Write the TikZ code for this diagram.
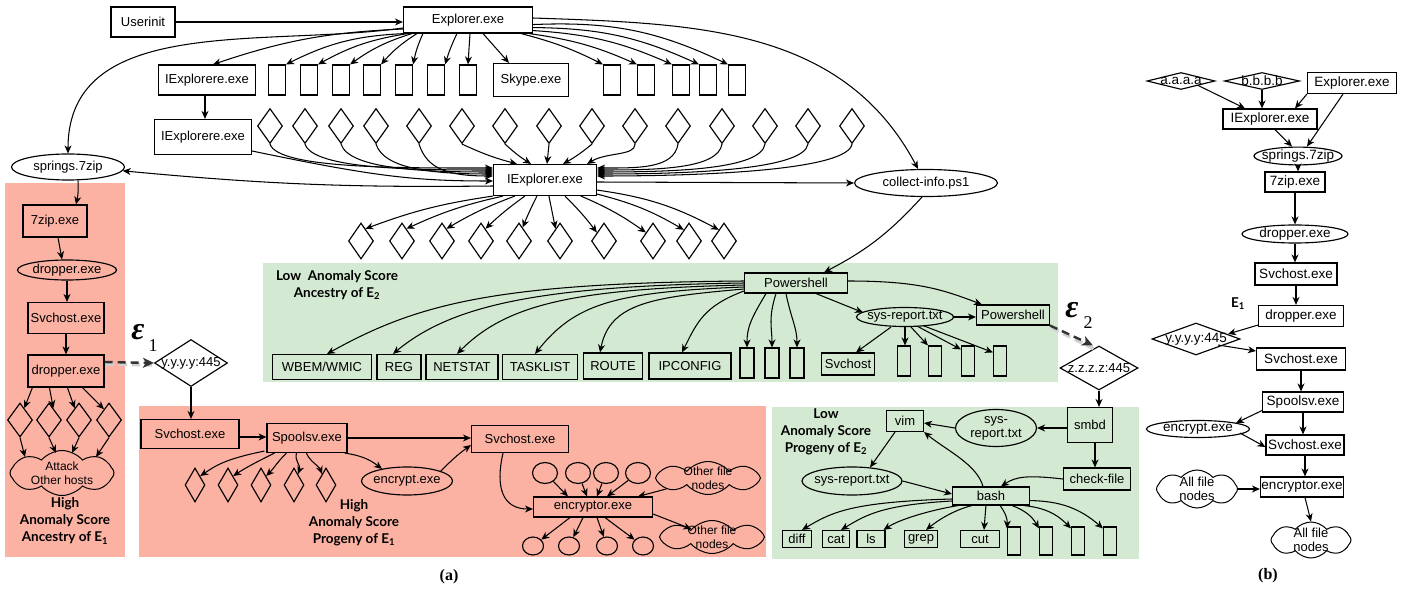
\documentclass[tikz,border=0pt]{standalone}
\usepackage{amsmath}
\usepackage{fontspec}
\setmainfont{Liberation Sans}
\newfontfamily\lbl{Lato}
\newfontfamily\capf{Liberation Serif}
\usetikzlibrary{arrows.meta,shapes.geometric,shapes.symbols,calc}
\definecolor{redp}{RGB}{251,178,163}
\definecolor{greenp}{RGB}{211,233,209}
\tikzset{
  every node/.style={font=\fontsize{13}{15}\selectfont},
  box/.style={draw, line width=1.15pt, inner sep=1pt, rectangle},
  ell/.style={draw, line width=1.15pt, ellipse, inner sep=0pt},
  dia/.style={draw, line width=1.15pt, diamond, inner sep=0pt},
  cld/.style={draw, line width=1pt, cloud, cloud puffs=8, cloud puff arc=100, cloud ignores aspect, inner sep=0pt},
  cldt/.style={align=center, font=\fontsize{12}{13.5}\selectfont},
  arr/.style={line width=1.05pt, -{Stealth[length=8pt,width=7pt,inset=2.5pt]}},
  dsh/.style={line width=2.4pt, draw=black!80, dash pattern=on 8pt off 5pt, -{Stealth[length=11pt,width=10pt,inset=3pt]}},
  shd/.style={line width=3.5pt, draw=black!18, dash pattern=on 8pt off 5pt},
  lab/.style={font=\lbl\bfseries\fontsize{13.5}{17}\selectfont, align=center},
  eps/.style={font=\capf\bfseries\itshape\fontsize{32}{32}\selectfont, inner sep=0pt},
  epsub/.style={font=\capf\fontsize{18}{18}\selectfont, inner sep=0pt},
  capt/.style={font=\capf\bfseries\fontsize{16}{16}\selectfont},
  sz/.style 2 args={minimum width=#1pt, minimum height=#2pt},
}
\begin{document}
\begin{tikzpicture}[x=1pt,y=1pt]
\useasboundingbox (0,0) rectangle (1411,-593);
% panels
\fill[redp] (5,-183) rectangle (125,-557);
\fill[redp] (139,-406) rectangle (766,-557);
\fill[greenp] (263,-263) rectangle (1058,-382);
\fill[greenp] (772,-407) rectangle (1139,-559);

% ---------- top part ----------
\node[box, sz={64}{30}] (ui) at (143,-22) {Userinit};
\node[box, sz={129}{26}] (ex) at (468,-20) {Explorer.exe};
\node[box, sz={97}{30}] (ie1) at (207,-80) {IExplorere.exe};
\foreach \n/\x in {1/277,2/309,3/341,4/372,5/404,6/436,7/468}
  \node[box, sz={17}{30}] (r\n) at (\x,-80) {};
\node[box, sz={75}{33}] (sk) at (531,-80) {Skype.exe};
\foreach \n/\x in {1/612,2/646,3/681,4/708,5/737}
  \node[box, sz={17}{30}] (q\n) at (\x,-80) {};
\node[box, sz={97}{35}] (ie2) at (203,-137) {IExplorere.exe};
\foreach \n/\x in {1/270,2/305,3/341,4/376,5/419,6/462,7/505,8/549,9/592,10/635,11/678,12/722,13/765,14/808,15/852}
  \node[dia, sz={25}{35}] (da\n) at (\x,-126) {};
\node[box, sz={103}{31}] (IE) at (545,-180) {IExplorer.exe};
\node[ell, sz={113}{26}] (spr) at (68,-167) {\makebox[0pt]{springs.7zip}};
\node[ell, sz={143}{27}] (col) at (926,-183) {\makebox[0pt]{collect-info.ps1}};
\foreach \n/\x in {1/361,2/402,3/442,4/481,5/519,6/560,7/604,8/653,9/689,10/724}
  \node[dia, sz={25}{36}] (db\n) at (\x,-241) {};

\draw[arr] (ui.east) -- (ui.east -| ex.west);
\draw[arr] ([yshift=-9]ex.west) to[bend right=8] ([xshift=6]ie1.north);
\foreach \n/\dx/\bd in {1/2/12,2/5/10,3/9/9,4/14/8,5/20/6,6/54/4}
  \draw[arr] ([xshift=\dx]ex.south west) to[bend right=\bd] (r\n.north east);
\draw[arr] ([xshift=2]ex.south) -- (r7.north);
\draw[arr] ([xshift=15]ex.south) -- ([xshift=-22]sk.north);
\foreach \n/\dx/\dy/\bd in {1/-12/0/6,2/-4/0/8,3/0/3/10,4/0/6/12,5/0/9/14}
  \draw[arr] ([xshift=\dx,yshift=\dy]ex.south east) to[bend left=\bd] (q\n.north west);
\draw[arr] ([yshift=-8]ex.west) to[out=188,in=90] (spr.north);
\draw[arr] ([yshift=2]ex.east) to[out=-2,in=118] ([xshift=-8]col.north);
\draw[arr] ([xshift=-2]ie1.south) -- ([xshift=2]ie2.north);
\draw[arr] ([yshift=-14]ie2.east) .. controls +(120,-25) and +(-80,0) .. ([yshift=-1]IE.west);
\foreach \n/\dy/\cc in {1/12/90,2/10/80,3/8/70,4/6/60,5/4/45}
  \draw[arr] (da\n.south) .. controls +(8,-25) and +(-\cc,0) .. ([yshift=\dy]IE.west);
\draw[arr] (da6.south) to[bend right=5] ([xshift=-28]IE.north);
\draw[arr] (da7.south) to[bend right=5] ([xshift=-14]IE.north);
\draw[arr] (da8.south) -- ([xshift=2]IE.north);
\draw[arr] (da9.south) to[bend left=5] ([xshift=18]IE.north);
\draw[arr] (da10.south) .. controls +(0,-12) and +(20,12) .. ([xshift=42]IE.north);
\foreach \n/\dy/\cc in {11/12/40,12/10/60,13/8/80,14/6/100,15/4/120}
  \draw[arr] (da\n.south) .. controls +(-4,-25) and +(\cc,0) .. ([yshift=\dy]IE.east);
\draw[arr] ([yshift=-6]IE.west) to[bend left=3] (spr.-4);
\draw[arr] ([yshift=-2]IE.east) -- (col.west);
\foreach \n/\sx/\ang/\bd in {1/0/70/6,2/10/70/6,3/22/70/5,4/32/70/4,5/44/75/2,6/56/110/0,7/72/130/-4,8/88/130/-6}
  \draw[arr] ([xshift=\sx]IE.south west) to[bend right=\bd] (db\n.\ang);
\draw[arr] ([yshift=2]IE.south east) to[bend left=8] (db9.115);
\draw[arr] ([yshift=6]IE.south east) to[bend left=10] (db10.115);

% ---------- green panel 1 ----------
\node[lab] (lbl2) at (337,-285) {Low\ \ Anomaly Score\\Ancestry of E\textsubscript{2}};
\node[box, sz={103}{20}] (ps) at (796,-283) {Powershell};
\draw[arr] ([xshift=-4]col.south) to[bend left=10] ([xshift=28]ps.north);
\node[box, sz={99}{25}] (wbem) at (322,-367) {WBEM/WMIC};
\node[box, sz={44}{25}] (reg) at (399,-367) {REG};
\node[box, sz={72}{25}] (net) at (462,-367) {NETSTAT};
\node[box, sz={75}{25}] (task) at (540,-367) {TASKLIST};
\node[box, sz={59}{26}] (route) at (613,-366) {ROUTE};
\node[box, sz={82}{26}] (ipc) at (690,-366) {IPCONFIG};
\foreach \n/\x in {1/747,2/772,3/797}
  \node[box, sz={14}{30}] (p\n) at (\x,-363) {};
\node[box, sz={53}{22}] (svc) at (848,-364) {Svchost};
\foreach \n/\x in {1/904,2/935,3/968,4/1000}
  \node[box, sz={13}{30}] (s\n) at (\x,-361) {};
\node[ell, sz={97}{19}] (sr) at (905,-317) {\makebox[0pt]{sys-report.txt}};
\node[box, sz={73}{20}] (ps2) at (1013,-315) {Powershell};

\draw[arr] ([yshift=2]ps.west) .. controls +(-250,-2) and +(90,50) .. ([xshift=5]wbem.north);
\draw[arr] (ps.west) .. controls +(-200,-3) and +(60,50) .. ([xshift=-6]reg.north);
\draw[arr] ([yshift=-2]ps.west) .. controls +(-170,-4) and +(50,50) .. ([xshift=-5]net.north);
\draw[arr] ([yshift=-4]ps.west) .. controls +(-130,-5) and +(40,50) .. ([xshift=-5]task.north);
\draw[arr] ([yshift=-6]ps.west) .. controls +(-90,-8) and +(10,50) .. ([xshift=-13]route.north);
\draw[arr] ([yshift=-8]ps.west) .. controls +(-40,-15) and +(15,30) .. ([xshift=-8]ipc.north);
\draw[arr] ([xshift=-30]ps.south) .. controls +(-15,-25) and +(0,20) .. (p1.north);
\draw[arr] ([xshift=-20]ps.south) .. controls +(-8,-25) and +(0,20) .. (p2.north);
\draw[arr] ([xshift=-10]ps.south) .. controls +(5,-25) and +(0,20) .. (p3.north);
\draw[arr] ([xshift=20]ps.south) -- ([shift={(-42,4.5)}]sr.center);
\draw[arr] ([yshift=2]ps.east) .. controls +(70,0) and +(-40,15) .. ([xshift=6]ps2.north west);
\draw[arr] (sr.east) -- (sr.east -| ps2.west);
\draw[arr] ([xshift=-14]sr.south) -- ([xshift=8]svc.north);
\draw[arr] (sr.south) -- (sr.south |- s1.north);
\draw[arr] ([xshift=6]sr.south) -- (s2.north west);
\draw[arr] ([xshift=12,yshift=1]sr.south) -- ([yshift=-4]s3.north west);
\draw[arr] ([xshift=18,yshift=1.5]sr.south) -- ([yshift=-7]s4.north west);

% epsilon 2
\node[dia, sz={78}{44}] (zz) at (1099,-368) {\makebox[0pt]{z.z.z.z:445}};
\draw[shd] ([shift={(1.5,-2)}]ps2.south east) -- ([shift={(-4,-4)}]zz.north);
\draw[dsh] (ps2.south east) -- ([xshift=-6]zz.north);
\node[eps] (e2) at (1072,-310) {ε};
\node[epsub] (e2s) at (1088,-323) {2};

% ---------- green panel 2 ----------
\node[lab] (lbl4) at (826,-432) {Low\\Anomaly Score\\Progeny of E\textsubscript{2}};
\node[box, sz={37}{21}] (vim) at (905,-421) {vim};
\node[ell, sz={81}{37}] (sr2) at (996,-428) {};
\node[align=center, font=\fontsize{13}{14}\selectfont] (sr2t) at (sr2) {sys-\\report.txt};
\node[box, sz={45}{35}] (smbd) at (1090,-425) {smbd};
\node[box, sz={67}{22}] (cf) at (1097,-479) {check-file};
\node[ell, sz={100}{28}] (sr3) at (852,-481) {\makebox[0pt]{sys-report.txt}};
\node[box, sz={77}{18}] (bash) at (991,-496) {bash};
\node[box, sz={29}{17}] (diff) at (797,-539) {diff};
\node[box, sz={27}{17}] (cat) at (836,-539) {cat};
\node[box, sz={28}{17}] (ls) at (871,-539) {ls};
\node[box, sz={33}{17}] (grep) at (921,-539) {grep};
\node[box, sz={39}{17}] (cut) at (980,-539) {cut};
\foreach \n/\x in {1/1014,2/1046,3/1078,4/1110}
  \node[box, sz={13}{28}] (b\n) at (\x,-541) {};

\draw[arr] (zz.south) -- (zz.south |- smbd.north);
\draw[arr] (smbd.west |- sr2.east) -- (sr2.east);
\draw[arr] (sr2.west) -- ([yshift=-2]vim.east);
\draw[arr] ([xshift=5]smbd.south) -- ([xshift=-2]cf.north);
\draw[arr] (cf.west) .. controls +(-35,4) and +(15,10) .. ([xshift=10]bash.north);
\draw[arr] ([xshift=-8]bash.north) .. controls +(-6,22) and +(22,-18) .. (vim.south east);
\draw[arr] ([xshift=-10]vim.south) -- ([xshift=18,yshift=-1]sr3.north);
\draw[arr] (sr3.east) -- ([yshift=2]bash.west);
\draw[arr] ([yshift=-3]bash.west) .. controls +(-100,-3) and +(30,18) .. ([xshift=5]diff.north);
\draw[arr] ([yshift=-5]bash.west) .. controls +(-70,-4) and +(25,15) .. ([xshift=5]cat.north);
\draw[arr] ([xshift=6]bash.south west) .. controls +(-30,-5) and +(15,10) .. ([xshift=-2]ls.north east);
\draw[arr] ([xshift=20]bash.south west) .. controls +(-20,-5) and +(10,8) .. ([xshift=5]grep.north);
\draw[arr] ([xshift=34]bash.south west) -- ([xshift=4]cut.north);
\draw[arr] ([xshift=-30]bash.south east) to[bend left=20] ([yshift=-2]b1.north west);
\draw[arr] ([xshift=-18]bash.south east) to[bend left=20] ([yshift=-2]b2.north west);
\draw[arr] ([xshift=-6]bash.south east) to[bend left=20] ([yshift=-2]b3.north west);
\draw[arr] ([yshift=5]bash.south east) to[bend left=20] ([yshift=-2]b4.north west);

% ---------- left red panel ----------
\node[box, sz={64}{32}] (zip) at (55,-221) {7zip.exe};
\node[ell, sz={99}{20}] (dr1) at (67,-270) {\makebox[0pt]{dropper.exe}};
\node[box, sz={76}{31}] (svl) at (66,-318) {Svchost.exe};
\node[box, sz={76}{32}] (drl) at (66,-371) {dropper.exe};
\foreach \n/\x in {1/20,2/49,3/79,4/109}
  \node[dia, sz={25}{34}] (l\n) at (\x,-420) {};
\node[cld, sz={104}{45}] (att) at (62,-473) {};
\node[cldt] (attt) at (att) {Attack\\Other hosts};
\node[lab] (lbl1) at (65,-521) {High\\Anomaly Score\\Ancestry of E\textsubscript{1}};

\draw[arr] ([xshift=10]spr.south) to[bend left=8] ([xshift=21]zip.north);
\draw[arr] ([xshift=3]zip.south) -- ([xshift=-5]dr1.north);
\draw[arr] (dr1.south) -- (dr1.south |- svl.north);
\draw[arr] (svl.south) -- (drl.north);
\draw[arr] ([xshift=5]drl.south west) -- (l1.70);
\draw[arr] ([xshift=22]drl.south west) -- (l2.70);
\draw[arr] ([xshift=40]drl.south west) -- (l3.110);
\draw[arr] ([xshift=55]drl.south west) -- (l4.115);
\draw[arr] (l1.south) -- ([shift={(-37,16)}]att.center);
\draw[arr] (l2.south) -- ([shift={(-6,20)}]att.center);
\draw[arr] (l3.south) -- ([shift={(10,20)}]att.center);
\draw[arr] (l4.south) -- ([shift={(34,16)}]att.center);

% epsilon 1
\node[dia, sz={73}{47}] (yy) at (191,-363) {\makebox[0pt]{y.y.y.y:445}};
\draw[shd] ([shift={(1.5,-2)}]drl.east) ++(0,9) -- ([shift={(-2,-2)}]yy.west);
\draw[dsh] ([yshift=9]drl.east) -- (yy.west);
\node[eps] (e1) at (138,-332) {ε};
\node[epsub] (e1s) at (153,-346) {1};

% ---------- middle red panel ----------
\node[box, sz={98}{29}] (msv) at (190,-434) {Svchost.exe};
\node[box, sz={80}{29}] (spool) at (307,-438) {Spoolsv.exe};
\node[box, sz={97}{27}] (msv2) at (520,-439) {Svchost.exe};
\node[ell, sz={91}{28}] (enc) at (407,-481) {\makebox[0pt]{encrypt.exe}};
\foreach \n/\x in {1/195,2/228,3/261,4/294,5/326}
  \node[dia, sz={20}{34}] (m\n) at (\x,-485) {};
\foreach \n/\x in {1/545,2/578,3/606,4/638}
  \node[ell, sz={25}{21}] (c\n) at (\x,-473) {};
\node[cld, sz={105}{33}] (oc1) at (708,-478) {};
\node[cldt] (oc1t) at (oc1) {Other file\\nodes};
\node[box, sz={119}{20}] (enc2) at (593,-507) {encryptor.exe};
\foreach \n/\x in {1/533,2/569,3/607,4/643}
  \node[ell, sz={21}{18}] (d\n) at (\x,-546) {};
\node[cld, sz={105}{33}] (oc2) at (712,-537) {};
\node[cldt] (oc2t) at (oc2) {Other file\\nodes};
\node[lab] (lbl3) at (354,-523) {High\\Anomaly Score\\Progeny of E\textsubscript{1}};

\draw[arr] (yy.south) -- (yy.south |- msv.north);
\draw[arr] ([yshift=-3]msv.east) -- ([yshift=1]spool.west);
\draw[arr] (spool.east) -- (spool.east -| msv2.west);
\draw[arr] ([xshift=-3]spool.south east) to[bend left=15] ([shift={(-25,12)}]enc.center);
\draw[arr] ([shift={(33,9)}]enc.center) to[bend left=5] ([yshift=-6]msv2.west);
\draw[arr] ([xshift=-2,yshift=2]spool.south west) .. controls +(-40,-8) and +(15,10) .. (m1.60);
\draw[arr] ([xshift=8]spool.south west) .. controls +(-20,-10) and +(12,8) .. (m2.60);
\draw[arr] ([xshift=20]spool.south west) .. controls +(-10,-10) and +(8,8) .. (m3.60);
\draw[arr] ([xshift=30]spool.south west) .. controls +(-2,-8) and +(3,8) .. (m4.70);
\draw[arr] ([xshift=40]spool.south west) .. controls +(3,-8) and +(-3,8) .. (m5.110);
\draw[arr] ([xshift=-17]msv2.south) .. controls +(-8,-35) and +(-30,0) .. ([yshift=-2]enc2.west);
\draw[arr] (c1) -- ([xshift=-25]enc2.north);
\draw[arr] (c2) -- ([xshift=-6]enc2.north);
\draw[arr] (c3) -- ([xshift=4]enc2.north);
\draw[arr] (c4) -- ([xshift=14]enc2.north);
\draw[arr] (oc1) -- ([xshift=45]enc2.north);
\draw[arr] ([xshift=-23]enc2.south) -- (d1);
\draw[arr] ([xshift=-10]enc2.south) -- (d2);
\draw[arr] ([xshift=4]enc2.south) -- (d3);
\draw[arr] ([xshift=12]enc2.south) -- (d4);
\draw[arr] ([yshift=-7]enc2.east) -- (oc2);

% ---------- panel (b) ----------
\begin{scope}[every node/.append style={font=\fontsize{13.5}{15}\selectfont}]
\node[dia, sz={68}{17}] (aa) at (1181,-81) {\makebox[0pt]{a.a.a.a}};
\node[dia, sz={75}{17}] (bb) at (1262,-81) {\makebox[0pt]{b.b.b.b}};
\node[box, sz={89}{21}, inner sep=0.5pt] (exb) at (1352,-83) {Explorer.exe};
\node[box, sz={94}{20}, inner sep=0.5pt] (ieb) at (1270,-119) {IExplorer.exe};
\node[ell, sz={88}{16}] (spb) at (1298,-156) {\makebox[0pt]{springs.7zip}};
\node[box, sz={60}{20}, inner sep=0.5pt] (zb) at (1295,-182) {7zip.exe};
\node[ell, sz={106}{18}] (drb) at (1295,-234) {\makebox[0pt]{dropper.exe}};
\node[box, sz={82}{22}, inner sep=0.5pt] (svb) at (1296,-274) {Svchost.exe};
\node[box, sz={85}{21}, inner sep=0.5pt] (drb2) at (1301,-316) {dropper.exe};
\node[dia, sz={88}{32}] (yyb) at (1196,-339) {\makebox[0pt]{y.y.y.y:445}};
\node[box, sz={89}{22}, inner sep=0.5pt] (svb2) at (1301,-359) {Svchost.exe};
\node[box, sz={81}{20}, inner sep=0.5pt] (spb2) at (1303,-402) {Spoolsv.exe};
\node[ell, sz={103}{17}] (encb) at (1198,-429) {\makebox[0pt]{encrypt.exe}};
\node[box, sz={78}{20}, inner sep=0.5pt] (svb3) at (1305,-445) {Svchost.exe};
\node[cld, sz={81}{38}] (afn) at (1197,-489) {};
\node[cldt, font=\fontsize{13}{14}\selectfont] (afnt) at (afn) {All file\\nodes};
\node[box, sz={83}{20}, inner sep=0.5pt] (encb2) at (1302,-487) {encryptor.exe};
\node[cld, sz={80}{36}] (afn2) at (1311,-540) {};
\node[cldt, font=\fontsize{13}{14}\selectfont] (afn2t) at (afn2) {All file\\nodes};
\end{scope}
\node[lab] (e1b) at (1238,-304) {E\textsubscript{1}};

\draw[arr] (aa.south east) -- ([xshift=-25]ieb.north);
\draw[arr] (bb.south) -- (bb.south |- ieb.north);
\draw[arr] (exb.south west) -- ([xshift=25]ieb.north);
\draw[arr] ([xshift=-9]exb.south) -- ([xshift=9]spb.north);
\draw[arr] ([xshift=5]ieb.south) -- ([xshift=-6]spb.north);
\draw[arr] (spb.south) -- (spb.south |- zb.north);
\draw[arr] (zb.south) -- (zb.south |- drb.north);
\draw[arr] (drb.south) -- (drb.south |- svb.north);
\draw[arr] (svb.south) -- (svb.south |- drb2.north);
\draw[arr] ([yshift=2]drb2.south west) -- ([shift={(32,5)}]yyb.center);
\draw[arr] ([shift={(22,-6)}]yyb.center) -- ([yshift=8]svb2.west);
\draw[arr] (svb2.south) -- (svb2.south |- spb2.north);
\draw[arr] ([yshift=2]spb2.south west) -- ([shift={(38,6)}]encb.center);
\draw[arr] (spb2.south) -- (spb2.south |- svb3.north);
\draw[arr] ([shift={(42,-4)}]encb.center) -- ([yshift=-2]svb3.west);
\draw[arr] (svb3.south) -- (svb3.south |- encb2.north);
\draw[arr] (afn.east) -- (afn.east -| encb2.west);
\draw[arr] ([xshift=3]encb2.south) -- (afn2.north);

% captions
\node[capt] (ca) at (449,-577) {(a)};
\node[capt] (cb) at (1268,-576) {(b)};
\end{tikzpicture}
\end{document}
